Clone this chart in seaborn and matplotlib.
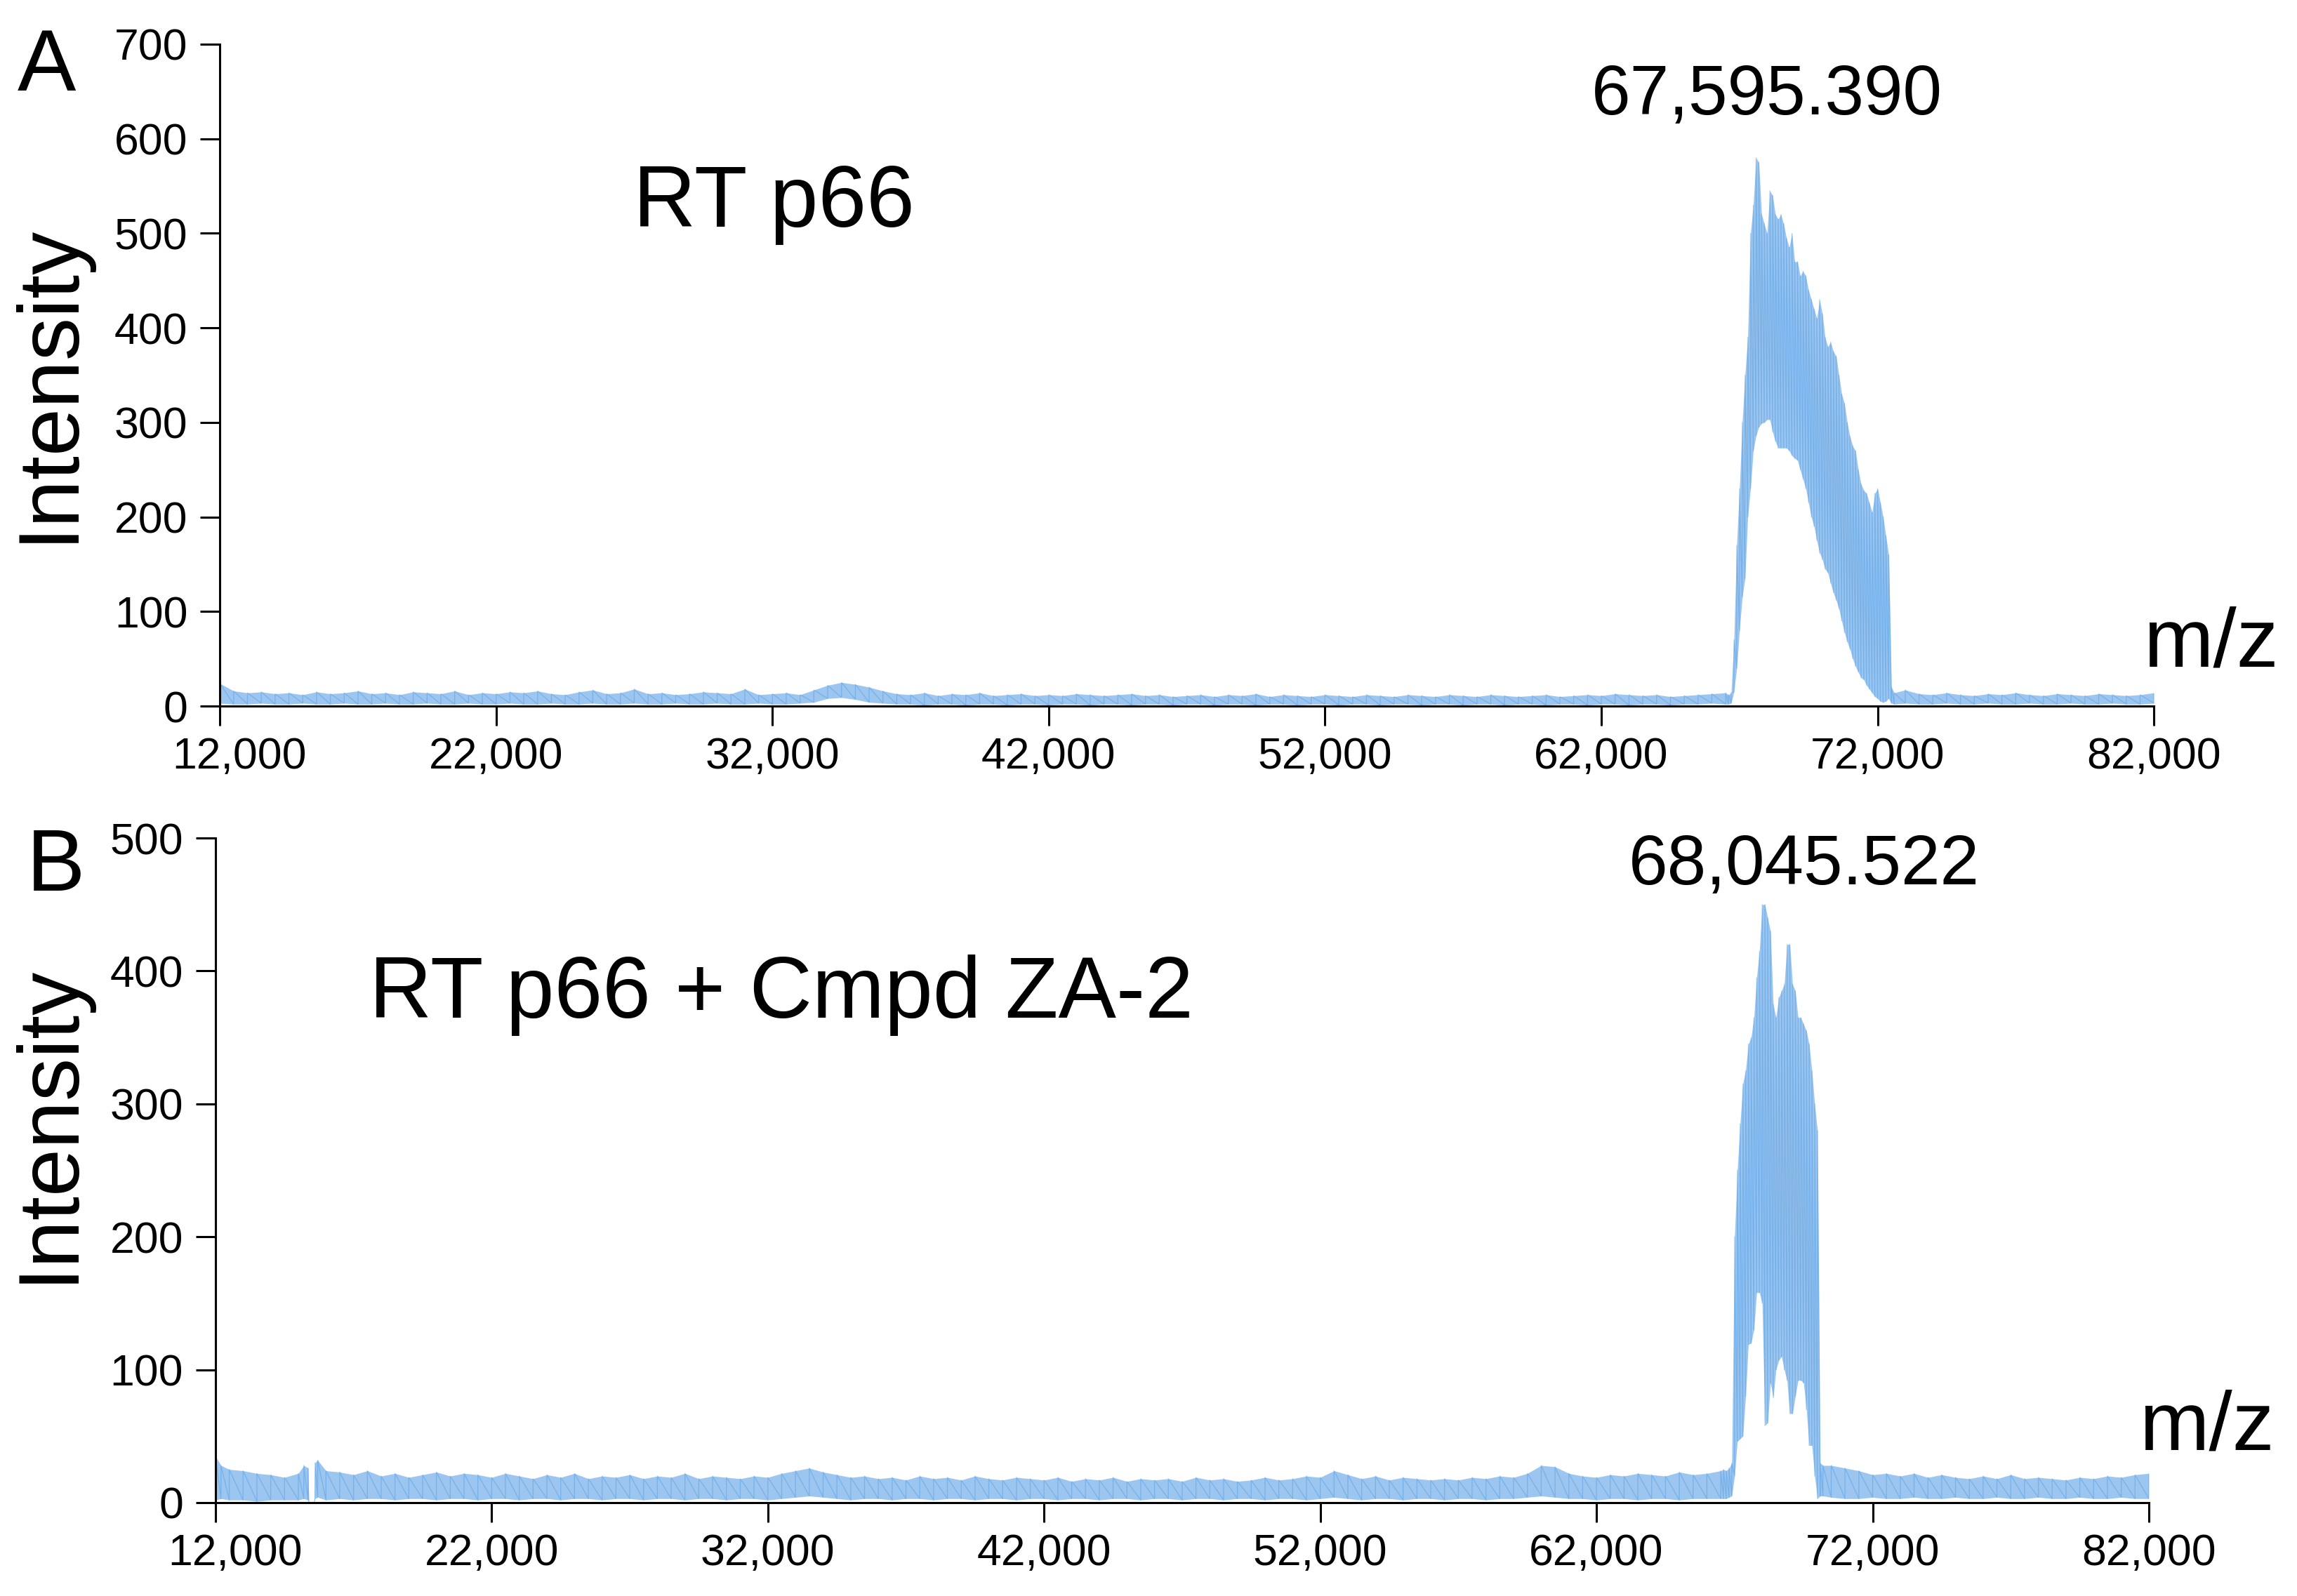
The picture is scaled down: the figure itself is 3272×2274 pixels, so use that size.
import matplotlib
matplotlib.use("Agg")
import matplotlib.pyplot as plt
import matplotlib.transforms as mtransforms
import numpy as np
import seaborn as sns

# ---------------- data ----------------
x_ticks = [12000, 22000, 32000, 42000, 52000, 62000, 72000, 82000]
x_tick_labels = ["12,000", "22,000", "32,000", "42,000", "52,000", "62,000", "72,000", "82,000"]
y_ticks_a = [0, 100, 200, 300, 400, 500, 600, 700]
y_ticks_b = [0, 100, 200, 300, 400, 500]

# panel A (RT p66): sampling grid, lower and upper edge of the noisy trace
mz_a = np.concatenate([np.arange(12000, 67000, 500),    # baseline
                       np.arange(66600, 72700, 100),    # peak
                       np.arange(73000, 82500, 500)])   # tail
high_a = [
    24, 16, 14, 15, 13, 14, 12, 15, 13, 14,
    16, 13, 14, 12, 15, 14, 13, 16, 12, 14,
    13, 15, 14, 16, 13, 12, 15, 17, 13, 14,
    18, 13, 14, 12, 13, 15, 14, 13, 18, 12,
    13, 14, 12, 17, 22, 25, 23, 20, 16, 13,
    12, 14, 11, 13, 12, 14, 11, 12, 13, 11,
    12, 11, 13, 12, 11, 12, 13, 11, 12, 10,
    11, 12, 10, 12, 11, 13, 10, 12, 11, 10,
    12, 11, 10, 12, 11, 10, 12, 11, 10, 12,
    11, 10, 12, 11, 10, 11, 12, 10, 11, 12,
    11, 13, 12, 11, 12, 10, 11, 12, 13, 14,
    # peak
    12, 14, 70, 170, 230, 300, 350, 390, 500, 530,
    580, 575, 520, 510, 500, 545, 540, 520, 515, 520,
    510, 495, 485, 500, 470, 470, 455, 460, 455, 440,
    430, 420, 410, 430, 415, 390, 380, 385, 375, 370,
    350, 330, 320, 300, 285, 275, 270, 250, 235, 228,
    225, 215, 205, 225, 230, 215, 200, 180, 160, 20,
    14,
    # tail
    17, 13, 12, 14, 12, 11, 13, 12, 14, 12, 11, 13, 12, 11, 13, 12, 11, 12, 14,
]
low_a = [
    3, 2, 2, 3, 2, 2, 3, 2, 2, 3,
    2, 2, 3, 2, 2, 3, 2, 2, 3, 2,
    2, 3, 2, 2, 3, 2, 2, 3, 2, 2,
    3, 2, 2, 3, 2, 2, 3, 2, 2, 3,
    2, 2, 3, 4, 8, 9, 7, 4, 3, 2,
    2, 1, 2, 2, 1, 2, 2, 1, 2, 2,
    1, 2, 2, 1, 2, 2, 1, 2, 2, 1,
    2, 2, 1, 2, 2, 1, 2, 2, 1, 2,
    2, 1, 2, 2, 1, 2, 2, 1, 2, 2,
    1, 2, 2, 1, 2, 2, 1, 2, 2, 1,
    2, 2, 1, 2, 2, 1, 2, 2, 3, 2,
    # peak
    2, 3, 15, 40, 80, 115, 135, 200, 230, 270,
    286, 295, 299, 300, 303, 303, 290, 280, 273, 273,
    273, 273, 270, 265, 262, 260, 250, 240, 230, 215,
    200, 190, 175, 162, 155, 145, 141, 130, 120, 112,
    103, 90, 78, 68, 60, 50, 42, 36, 30, 28,
    22, 18, 14, 10, 8, 5, 4, 5, 8, 3,
    2,
    # tail
    3, 2, 2, 3, 2, 2, 3, 2, 2, 3, 2, 2, 3, 2, 2, 3, 2, 2, 3,
]

# panel B (RT p66 + Cmpd ZA-2)
mz_b = np.concatenate([[12000, 12200, 12500, 13000, 13500, 14000, 14500, 15000,
                        15200, 15350, 15380, 15580, 15600, 15700, 16000],
                       np.arange(16500, 66600, 500),
                       np.arange(66600, 70300, 100),
                       np.arange(70500, 82500, 500)])
high_b = [
    35, 28, 25, 24, 22, 21, 19, 22, 28, 26, 0, 0, 30, 32, 24,
    23, 21, 24, 20, 22, 19, 21, 23, 20, 22,
    21, 19, 22, 20, 18, 21, 19, 22, 18, 20,
    19, 21, 18, 20, 19, 22, 18, 20, 19, 18,
    20, 19, 22, 24, 26, 23, 21, 19, 20, 18,
    19, 17, 20, 18, 19, 17, 20, 18, 17, 19,
    18, 17, 19, 16, 18, 17, 19, 16, 18, 17,
    18, 16, 19, 17, 18, 16, 17, 19, 17, 18,
    20, 19, 24, 21, 18, 20, 17, 19, 18, 17,
    18, 17, 19, 18, 20, 19, 22, 28, 27, 22,
    20, 19, 21, 20, 22, 21, 20, 23, 21, 22,
    24,
    # peak
    25, 24, 26, 30, 200, 250, 285, 315, 325, 345,
    350, 365, 395, 415, 450, 450, 440, 430, 375, 365,
    380, 385, 390, 420, 420, 390, 385, 365, 365, 360,
    355, 345, 325, 300, 280, 30, 28,
    # tail
    28, 26, 24, 21, 22, 20, 22, 19, 21, 19, 18, 20,
    18, 21, 18, 19, 18, 17, 19, 18, 20, 19, 21, 22,
]
low_b = [
    2, 3, 2, 2, 1, 2, 2, 2, 3, 2, 0, 0, 3, 4, 2,
    3, 2, 3, 3, 2, 3, 3, 2, 3, 3,
    2, 3, 3, 2, 3, 3, 2, 3, 3, 2,
    3, 3, 2, 3, 3, 2, 3, 3, 2, 3,
    3, 2, 3, 4, 5, 4, 3, 2, 3, 3,
    2, 3, 3, 2, 3, 3, 2, 3, 3, 2,
    3, 3, 2, 3, 3, 2, 3, 3, 2, 3,
    3, 2, 3, 3, 2, 3, 3, 2, 3, 3,
    2, 3, 4, 3, 2, 3, 3, 2, 3, 3,
    2, 3, 3, 2, 3, 3, 4, 5, 4, 3,
    3, 2, 3, 3, 2, 3, 3, 2, 3, 3,
    3,
    # peak
    3, 3, 4, 5, 20, 46, 48, 50, 80, 119,
    120, 130, 158, 158, 150, 58, 60, 90, 79, 100,
    107, 110, 100, 92, 67, 67, 80, 92, 92, 90,
    70, 43, 43, 20, 3, 5, 5,
    # tail
    4, 3, 3, 4, 3, 3, 4, 3, 3, 4, 3, 3,
    4, 3, 3, 4, 3, 3, 4, 3, 3, 4, 3, 3,
]

# ---------------- style ----------------
sns.set_style("ticks")
plt.rcParams["font.family"] = ["Liberation Sans", "DejaVu Sans"]
plt.rcParams["text.color"] = "black"
plt.rcParams["xtick.color"] = "black"
plt.rcParams["ytick.color"] = "black"
plt.rcParams["axes.edgecolor"] = "black"

BLUE = "#3a8fe0"
TICK_SIZE = 45


def draw_spectrum(ax, mz, low, high, y_ticks, ymax):
    mz = np.asarray(mz, dtype=float)
    low = np.asarray(low, dtype=float)
    high = np.asarray(high, dtype=float)
    ax.fill_between(mz, low, high, color=BLUE, alpha=0.5, lw=0)
    # zig-zag between the lower and upper edges gives the noisy trace look
    sns.lineplot(x=np.repeat(mz, 2), y=np.column_stack([low, high]).ravel(),
                 estimator=None, sort=False, color=BLUE, lw=1.0, alpha=0.35, ax=ax)
    ax.set_xlim(12000, 82000)
    ax.set_ylim(0, ymax)
    ax.set_xticks(x_ticks)
    ax.set_xticklabels(x_tick_labels)
    ax.set_yticks(y_ticks)
    ax.set_xlabel("")
    ax.set_ylabel("")
    sns.despine(ax=ax)
    for side in ("left", "bottom"):
        ax.spines[side].set_linewidth(2.2)
        ax.spines[side].set_color("black")
        ax.spines[side].set_zorder(5)
    ax.tick_params(axis="both", length=20, width=2.2, labelsize=TICK_SIZE,
                   color="black", labelcolor="black")
    ax.tick_params(axis="y", pad=13)
    ax.tick_params(axis="x", pad=11)
    # the first x label sits a little right of its tick, as in the original
    first = ax.get_xticklabels()[0]
    shift = mtransforms.ScaledTranslation(0.28, 0, ax.figure.dpi_scale_trans)
    first.set_transform(first.get_transform() + shift)


fig = plt.figure(figsize=(32.72, 22.74), dpi=100)
ax_a = fig.add_axes([0.0957, 0.5576, 0.842, 0.4147])
ax_b = fig.add_axes([0.0938, 0.0585, 0.8417, 0.4164])

draw_spectrum(ax_a, mz_a, low_a, high_a, y_ticks_a, 700)
draw_spectrum(ax_b, mz_b, low_b, high_b, y_ticks_b, 500)

# panel A annotations
ax_a.text(26970, 507, "RT p66", fontsize=89, ha="left", va="baseline")
ax_a.text(68000, 626, "67,595.390", fontsize=72, ha="center", va="baseline")
ax_a.text(81620, 42, "m/z", fontsize=86, ha="left", va="baseline")

# panel B annotations
ax_b.text(17570, 365, "RT p66 + Cmpd ZA-2", fontsize=89, ha="left", va="baseline")
ax_b.text(69520, 465, "68,045.522", fontsize=72, ha="center", va="baseline")
ax_b.text(81650, 40, "m/z", fontsize=86, ha="left", va="baseline")

# panel letters and y labels
fig.text(0.0076, 0.9433, "A", fontsize=90, ha="left", va="baseline")
fig.text(0.0116, 0.4420, "B", fontsize=90, ha="left", va="baseline")
fig.text(0.004, 1 - 545 / 2274, "Intensity", fontsize=88, rotation=90, ha="left", va="center")
fig.text(0.004, 1 - 1600 / 2274, "Intensity", fontsize=88, rotation=90, ha="left", va="center")

fig.savefig("out.png", dpi=100)
plt.close(fig)
